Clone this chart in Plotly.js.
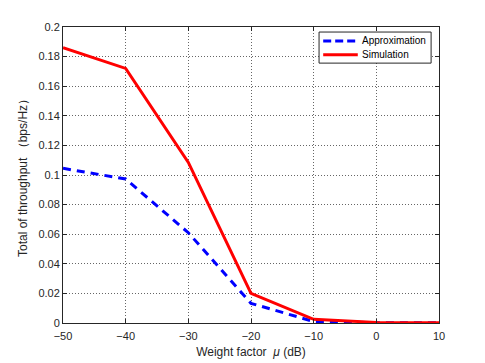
<!DOCTYPE html>
<html><head><meta charset="utf-8">
<script src="https://cdn.plot.ly/plotly-3.0.1.min.js"></script>
<style>html,body{margin:0;padding:0;background:#fff;}#chart{width:485px;height:363px;}</style>
</head><body><div id="chart"></div>
<script>
const xValues = [-50, -40, -30, -20, -10, 0, 10];
const approximation = [0.1045, 0.0973, 0.061, 0.0133, 0.001, 0.0002, 0.0001];
const simulation = [0.186, 0.172, 0.1085, 0.020, 0.0025, 0.0004, 0.0002];
const seriesNames = ['Approximation', 'Simulation'];
const xTicks = [-50, -40, -30, -20, -10, 0, 10];
const yTicks = [0, 0.02, 0.04, 0.06, 0.08, 0.1, 0.12, 0.14, 0.16, 0.18, 0.2];
const yTickText = ['0', '0.02', '0.04', '0.06', '0.08', '0.1', '0.12', '0.14', '0.16', '0.18', '0.2'];

const FONT = 'Liberation Sans, Arial, sans-serif';
const traces = [
  {x: xValues, y: approximation, name: seriesNames[0], mode: 'lines',
   line: {color: '#0000ff', width: 3, dash: '8px,6px'}},
  {x: xValues, y: simulation, name: seriesNames[1], mode: 'lines',
   line: {color: '#ff0000', width: 3}}
];
const axisCommon = {
  showline: true, linecolor: '#262626', linewidth: 1, mirror: 'ticks',
  ticks: 'inside', ticklen: 4, tickcolor: '#262626',
  showgrid: true, gridcolor: '#666', griddash: '1px,2px', gridwidth: 1,
  zeroline: false, tickfont: {family: FONT, size: 11, color: '#262626'}
};
// custom legend (paper coordinates)
const lx0 = 0.681, lx1 = 0.979, ly0 = 0.878, ly1 = 0.983;
const shapes = [
  {type: 'rect', xref: 'paper', yref: 'paper', x0: lx0, x1: lx1, y0: ly0, y1: ly1,
   line: {color: '#262626', width: 1}, fillcolor: '#fff', layer: 'above'},
  {type: 'line', xref: 'paper', yref: 'paper', x0: 0.692, x1: 0.784, y0: 0.953, y1: 0.953,
   line: {color: '#0000ff', width: 3, dash: '8px,4px'}, layer: 'above'},
  {type: 'line', xref: 'paper', yref: 'paper', x0: 0.692, x1: 0.784, y0: 0.906, y1: 0.906,
   line: {color: '#ff0000', width: 3}, layer: 'above'}
];
const annotations = [
  {xref: 'paper', yref: 'paper', x: 0.790, y: 0.953, xanchor: 'left', yanchor: 'middle',
   text: seriesNames[0], showarrow: false, font: {family: FONT, size: 10, color: '#000'}},
  {xref: 'paper', yref: 'paper', x: 0.790, y: 0.906, xanchor: 'left', yanchor: 'middle',
   text: seriesNames[1], showarrow: false, font: {family: FONT, size: 10, color: '#000'}}
];
const layout = {
  width: 485, height: 363,
  margin: {l: 63, r: 46, t: 27, b: 40},
  paper_bgcolor: '#fff', plot_bgcolor: '#fff',
  showlegend: false,
  shapes: shapes, annotations: annotations,
  xaxis: Object.assign({}, axisCommon, {range: [-50, 10], tickvals: xTicks, ticklabelstandoff: 3,
    title: {text: 'Weight factor  <i>μ</i> (dB)', standoff: 6,
      font: {family: FONT, size: 12, color: '#262626'}}}),
  yaxis: Object.assign({}, axisCommon, {range: [0, 0.2], tickvals: yTicks, ticktext: yTickText,
    title: {text: 'Total of throughput （bps/Hz）', standoff: 8,
      font: {family: FONT, size: 12, color: '#262626'}}})
};
Plotly.newPlot('chart', traces, layout, {displayModeBar: false, staticPlot: true});
</script></body></html>
